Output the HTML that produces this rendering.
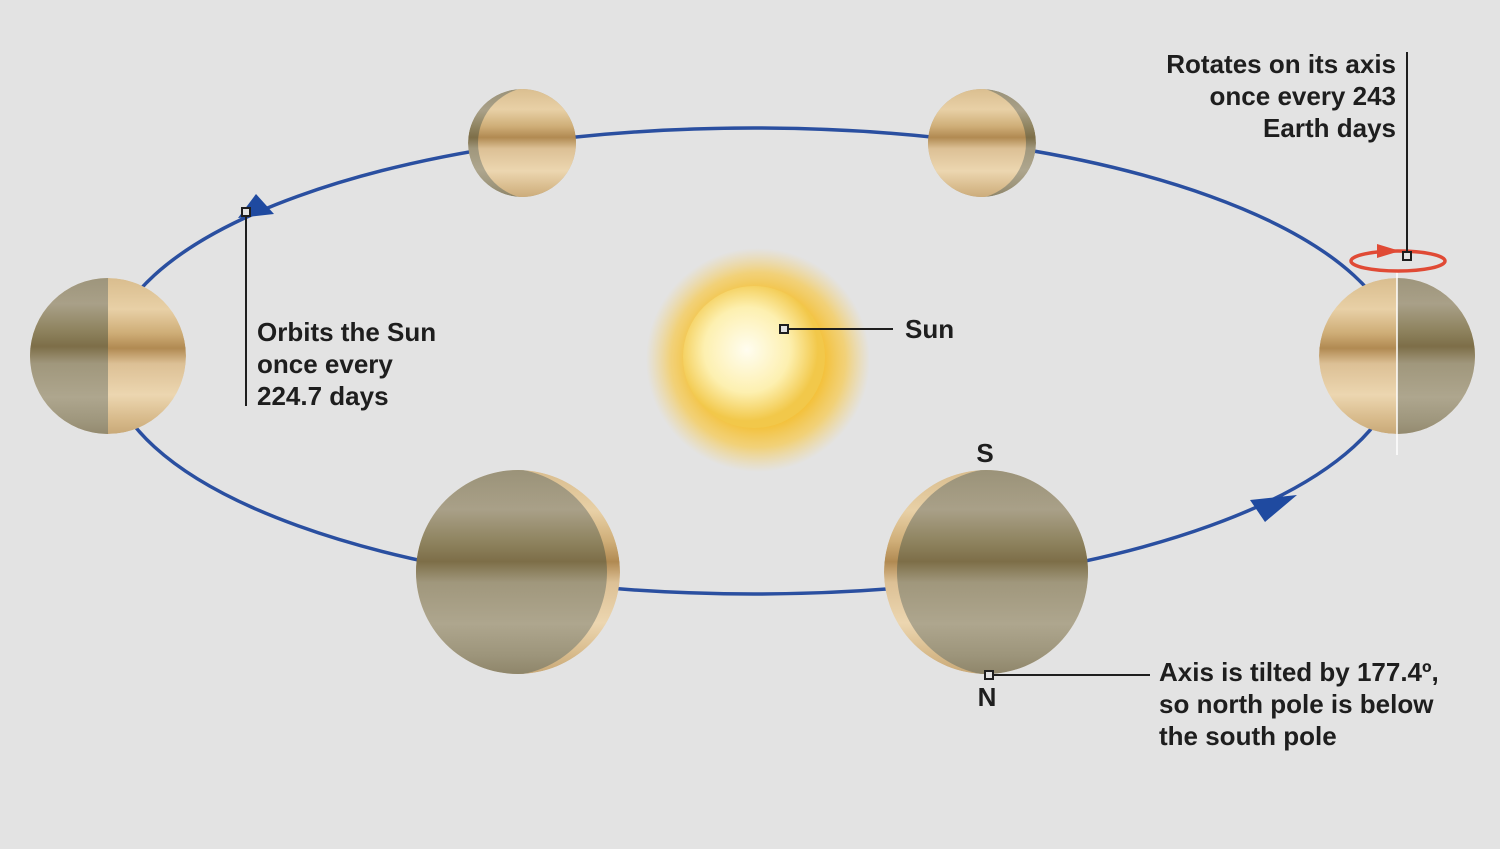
<!DOCTYPE html>
<html><head><meta charset="utf-8"><style>
html,body{margin:0;padding:0;background:#e3e3e3;}
svg{display:block}
text{font-family:"Liberation Sans",sans-serif;font-weight:bold;fill:#1e1e1e;font-size:26px}
</style></head><body>
<svg width="1500" height="849" viewBox="0 0 1500 849">
<defs>
<linearGradient id="lit" x1="0" y1="0" x2="0" y2="1">
<stop offset="0" stop-color="#d9bd8e"/><stop offset="0.2" stop-color="#e8d0a6"/><stop offset="0.35" stop-color="#cfae78"/>
<stop offset="0.45" stop-color="#b18a52"/><stop offset="0.55" stop-color="#dcc095"/><stop offset="0.75" stop-color="#ecd6b0"/>
<stop offset="0.9" stop-color="#d8bb8c"/><stop offset="1" stop-color="#c9a978"/></linearGradient>
<linearGradient id="dark" x1="0" y1="0" x2="0" y2="1">
<stop offset="0" stop-color="#9a9278"/><stop offset="0.2" stop-color="#a9a088"/><stop offset="0.35" stop-color="#8f8460"/>
<stop offset="0.45" stop-color="#7d6e48"/><stop offset="0.55" stop-color="#a0977c"/><stop offset="0.75" stop-color="#aea68e"/>
<stop offset="0.9" stop-color="#9d957b"/><stop offset="1" stop-color="#8d8468"/></linearGradient>
<radialGradient id="glow"><stop offset="0.55" stop-color="#f4bd2c"/><stop offset="0.78" stop-color="#f6cb55" stop-opacity="0.75"/><stop offset="1" stop-color="#f5d070" stop-opacity="0"/></radialGradient>
<radialGradient id="core" cx="0.45" cy="0.45"><stop offset="0" stop-color="#fffdf0"/><stop offset="0.6" stop-color="#fdf0b0"/><stop offset="1" stop-color="#f2c84a"/></radialGradient>
<clipPath id="c1"><circle cx="108" cy="356" r="78"/></clipPath>
<clipPath id="c2"><circle cx="1397" cy="356" r="78"/></clipPath>
<clipPath id="c3"><circle cx="522" cy="143" r="54"/></clipPath>
<clipPath id="c4"><circle cx="982" cy="143" r="54"/></clipPath>
<clipPath id="c5"><circle cx="518" cy="572" r="102"/></clipPath>
<clipPath id="c6"><circle cx="986" cy="572" r="102"/></clipPath>
</defs>
<ellipse cx="754" cy="361" rx="645" ry="233" fill="none" stroke="#2a4fa0" stroke-width="3.5"/>
<polygon points="238,218 256,194 274,214" fill="#1f4aa0"/>
<polygon points="1250,500 1297,495 1265,522" fill="#1f4aa0"/>

<g>
<circle cx="758" cy="360" r="112" fill="url(#glow)"/>
<circle cx="754" cy="357" r="71" fill="url(#core)"/>
</g>

<g clip-path="url(#c1)">
<circle cx="108" cy="356" r="78" fill="url(#lit)"/><rect x="30" y="270" width="78" height="170" fill="url(#dark)"/></g>
<g clip-path="url(#c2)">
<circle cx="1397" cy="356" r="78" fill="url(#lit)"/><rect x="1397" y="270" width="80" height="170" fill="url(#dark)"/></g>
<g clip-path="url(#c3)">
<circle cx="522" cy="143" r="54" fill="url(#dark)"/><circle cx="534" cy="143" r="56" fill="url(#lit)"/></g>
<g clip-path="url(#c4)">
<circle cx="982" cy="143" r="54" fill="url(#dark)"/><circle cx="970" cy="143" r="56" fill="url(#lit)"/></g>
<g clip-path="url(#c5)">
<circle cx="518" cy="572" r="102" fill="url(#lit)"/><circle cx="503" cy="572" r="104" fill="url(#dark)"/></g>
<g clip-path="url(#c6)">
<circle cx="986" cy="572" r="102" fill="url(#lit)"/><circle cx="1001" cy="572" r="104" fill="url(#dark)"/></g>
<line x1="1397" y1="270" x2="1397" y2="455" stroke="#fff" stroke-width="1.5"/>

<g>
<ellipse cx="1398" cy="261" rx="47" ry="10" fill="none" stroke="#e04a35" stroke-width="3.5"/>
<polygon points="1377,244 1400,251 1377,258" fill="#e04a35"/></g>

<g stroke="#1e1e1e" stroke-width="2" fill="none">
<line x1="246" y1="212" x2="246" y2="406"/><rect x="242" y="208" width="8" height="8" fill="#e3e3e3"/>
<line x1="788" y1="329" x2="893" y2="329"/><rect x="780" y="325" width="8" height="8" fill="#e3e3e3"/>
<line x1="1407" y1="52" x2="1407" y2="252"/><rect x="1403" y="252" width="8" height="8" fill="#e3e3e3"/>
<line x1="993" y1="675" x2="1150" y2="675"/><rect x="985" y="671" width="8" height="8" fill="#e3e3e3"/>
</g>

<text x="257" y="341"><tspan x="257">Orbits the Sun</tspan><tspan x="257" dy="32">once every</tspan><tspan x="257" dy="32">224.7 days</tspan></text>
<text x="905" y="338">Sun</text>
<text x="1396" y="73" text-anchor="end"><tspan x="1396">Rotates on its axis</tspan><tspan x="1396" dy="32">once every 243</tspan><tspan x="1396" dy="32">Earth days</tspan></text>
<text x="1159" y="681"><tspan x="1159">Axis is tilted by 177.4º,</tspan><tspan x="1159" dy="32">so north pole is below</tspan><tspan x="1159" dy="32">the south pole</tspan></text>
<text x="985" y="462" text-anchor="middle">S</text>
<text x="987" y="706" text-anchor="middle">N</text>
</svg>
</body></html>
